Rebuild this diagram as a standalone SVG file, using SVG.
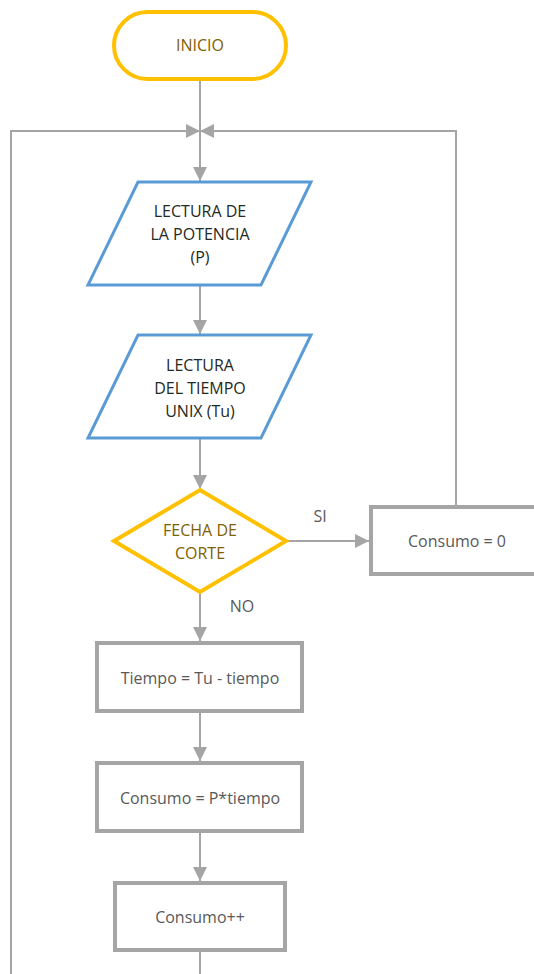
<svg xmlns="http://www.w3.org/2000/svg" width="534" height="974" viewBox="0 0 534 974">
<style>
text{font-family:"Open Sans","Liberation Sans",sans-serif;font-size:16px;text-anchor:middle;dominant-baseline:central}
.term{fill:#fff;stroke:#FFC000;stroke-width:4}
.io{fill:#fff;stroke:#5B9BD5;stroke-width:3}
.proc{fill:#fff;stroke:#A5A5A5;stroke-width:4}
.gold{fill:#7F6000}
.dark{fill:#1F2A22}
.gray{fill:#595959}
.conn{fill:none;stroke:#A5A5A5;stroke-width:2}
</style>
<defs>
<marker id="ah" viewBox="0 0 10 10" refX="10" refY="5" markerWidth="7" markerHeight="7" orient="auto" markerUnits="strokeWidth">
<path d="M0,0 L10,5 L0,10 z" fill="#A5A5A5"/>
</marker>
</defs>
<g id="connectors">
<line class="conn" x1="200" y1="80" x2="200" y2="181" marker-end="url(#ah)"/>
<polyline class="conn" points="11,974 11,131 200,131" marker-end="url(#ah)"/>
<polyline class="conn" points="456,505 456,131 200,131" marker-end="url(#ah)"/>
<line class="conn" x1="200" y1="285" x2="200" y2="334" marker-end="url(#ah)"/>
<line class="conn" x1="200" y1="438" x2="200" y2="489" marker-end="url(#ah)"/>
<line class="conn" x1="286" y1="541" x2="369" y2="541" marker-end="url(#ah)"/>
<line class="conn" x1="200" y1="592" x2="200" y2="641" marker-end="url(#ah)"/>
<line class="conn" x1="200" y1="712" x2="200" y2="761" marker-end="url(#ah)"/>
<line class="conn" x1="200" y1="832" x2="200" y2="881" marker-end="url(#ah)"/>
<line class="conn" x1="200" y1="951" x2="200" y2="974"/>
<text class="gray" x="320" y="516">SI</text>
<text class="gray" x="242" y="606">NO</text>
</g>
<g id="inicio">
<rect class="term" x="114" y="12" width="172" height="67" rx="33.5"/>
<text class="gold" x="200" y="45">INICIO</text>
</g>
<g id="lectura_potencia">
<polygon class="io" points="138,182 311,182 261,285 88,285"/>
<text class="dark" x="200" y="211">LECTURA DE</text>
<text class="dark" x="200" y="234">LA POTENCIA</text>
<text class="dark" x="200" y="257">(P)</text>
</g>
<g id="lectura_tiempo">
<polygon class="io" points="138,335 311,335 261,438 88,438"/>
<text class="dark" x="200" y="365">LECTURA</text>
<text class="dark" x="200" y="388">DEL TIEMPO</text>
<text class="dark" x="200" y="411">UNIX (Tu)</text>
</g>
<g id="fecha_corte">
<polygon class="term" points="200,490 286,541 200,592 114,541"/>
<text class="gold" x="200" y="530">FECHA DE</text>
<text class="gold" x="200" y="553">CORTE</text>
</g>
<g id="consumo_cero">
<rect class="proc" x="371" y="507" width="175" height="67"/>
<text class="gray" x="457" y="541">Consumo = 0</text>
</g>
<g id="tiempo">
<rect class="proc" x="97" y="643" width="205" height="68"/>
<text class="gray" x="200" y="678">Tiempo = Tu - tiempo</text>
</g>
<g id="consumo_calc">
<rect class="proc" x="97" y="763" width="205" height="68"/>
<text class="gray" x="200" y="798">Consumo = P*tiempo</text>
</g>
<g id="consumo_inc">
<rect class="proc" x="115" y="883" width="170" height="67"/>
<text class="gray" x="200" y="917">Consumo++</text>
</g>
</svg>
